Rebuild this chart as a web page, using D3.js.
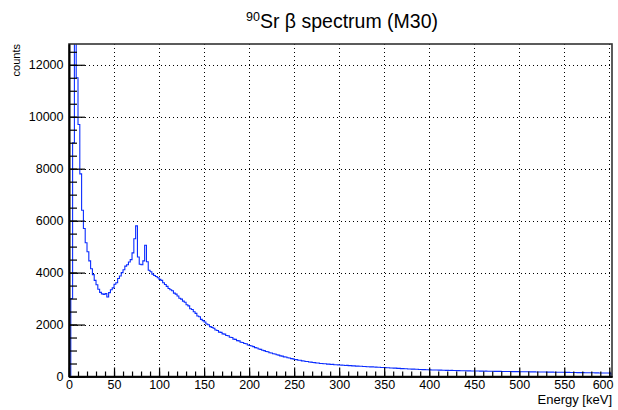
<!DOCTYPE html>
<html>
<head>
<meta charset="utf-8">
<script src="https://cdn.jsdelivr.net/npm/d3@7"></script>
<style>
  html, body { margin: 0; padding: 0; background: #fff; }
  svg { display: block; font-family: "Liberation Sans", Arial, Helvetica, sans-serif; }
</style>
</head>
<body>
<svg id="chart" width="618" height="410"></svg>
<script>
// ---- data ----
const binWidth = 2; // keV
const counts = [
  0, 3000, 9000, 14000, 11500, 9700, 7800, 6400, 5700, 5150,
  4800, 4450, 4150, 3920, 3700, 3530, 3360, 3240, 3180, 3160,
  3190, 3060, 3230, 3340, 3410, 3550, 3610, 3770, 3870, 4000,
  4110, 4250, 4300, 4410, 4500, 4760, 5300, 5800, 4600, 4320,
  4300, 4450, 5050, 4420, 4090, 4030, 3940, 3890, 3850, 3800,
  3740, 3700, 3610, 3540, 3470, 3390, 3340, 3300, 3210, 3170,
  3100, 3010, 2980, 2900, 2860, 2760, 2720, 2610, 2580, 2490,
  2430, 2330, 2300, 2200, 2150, 2100, 2020, 1990, 1920, 1890,
  1860, 1790, 1770, 1710, 1700, 1640, 1630, 1580, 1570, 1510,
  1500, 1440, 1430, 1380, 1370, 1320, 1310, 1270, 1260, 1210,
  1195,
  1175, 1150, 1110, 1095, 1060, 1045, 1010, 995, 960, 950, 915, 905,
  875, 868, 835, 822, 795, 786, 755, 750, 722, 714, 688, 680, 655,
  648, 628, 624, 600, 598, 580, 575, 556, 553, 538, 534, 522,
  518, 503, 502, 488, 488, 476, 475, 464, 466, 455, 454, 446,
  445, 436, 435, 426, 428, 418, 417, 408, 410, 400, 400, 393, 392, 384, 384, 376, 377, 370, 370, 363, 362, 355, 356, 349, 348,
  344, 337, 338, 329, 328, 321, 321, 313, 312, 305, 305, 297, 298, 291, 290, 284, 284, 278, 278, 271, 271, 265, 265, 259, 258,
  256, 252, 253, 248, 248, 244, 245, 240, 241, 237, 236, 233, 234, 230, 230, 227, 227, 223, 223, 219, 220, 216, 216, 213, 214,
  211, 212, 209, 208, 208, 205, 206, 203, 204, 201, 201, 198, 199, 196, 197, 194, 195, 192, 193, 190, 190, 188, 188, 186, 187,
  184, 185, 182, 182, 180, 180, 179, 177, 178, 175, 176, 173, 174, 171, 172, 169, 170, 167, 168, 165, 166, 163, 164, 161, 162,
  159, 159, 157, 156, 156, 153, 154, 151, 151, 149, 149, 146, 147, 144, 144, 142, 142, 139, 139, 137, 137, 134, 135, 132, 132, 130
];
const xDomain = [0, 603];
const yDomain = [0, 12800];
const xMajorTicks = [0, 50, 100, 150, 200, 250, 300, 350, 400, 450, 500, 550, 600];
const yMajorTicks = [0, 2000, 4000, 6000, 8000, 10000, 12000];
const xMinorStep = 10;
const yMinorStep = 500;
const titleParts = { sup: "90", main: "Sr ", greek: "\u03B2", rest: " spectrum (M30)" };
const xTitle = "Energy [keV]";
const yTitle = "counts";

// ---- layout ----
const W = 618, H = 410;
const L = 69, R = 612, T = 44, B = 376.5;
const svg = d3.select("#chart");

const x = d3.scaleLinear().domain(xDomain).range([L, R]);
const y = d3.scaleLinear().domain(yDomain).range([B, T]);

const xMinor = d3.range(xDomain[0], xDomain[1] + 0.001, xMinorStep);
const yMinor = d3.range(yDomain[0], yDomain[1] + 0.001, yMinorStep);

// grid
const grid = svg.append("g").attr("stroke", "#000").attr("stroke-width", 1)
  .attr("stroke-dasharray", "1,3").attr("shape-rendering", "crispEdges");
grid.selectAll("line.gx").data(xMajorTicks.filter(d => d > 0)).join("line")
  .attr("x1", d => Math.round(x(d)) + 0.5).attr("x2", d => Math.round(x(d)) + 0.5)
  .attr("y1", T).attr("y2", B);
grid.selectAll("line.gy").data(yMajorTicks.filter(d => d > 0)).join("line")
  .attr("x1", L).attr("x2", R)
  .attr("y1", d => Math.round(y(d)) + 0.5).attr("y2", d => Math.round(y(d)) + 0.5);

// histogram
svg.append("clipPath").attr("id", "clip").append("rect")
  .attr("x", L).attr("y", T).attr("width", R - L).attr("height", B - T);
const pts = [[x(0), y(0)]];
counts.forEach((c, i) => {
  pts.push([x(i * binWidth), y(c)]);
  pts.push([x((i + 1) * binWidth), y(c)]);
});
pts.push([x(counts.length * binWidth), y(0)]);
svg.append("path")
  .attr("clip-path", "url(#clip)")
  .attr("d", d3.line()(pts))
  .attr("fill", "none")
  .attr("stroke", "#0a2cff")
  .attr("stroke-width", 1.1);

// frame
svg.append("rect").attr("x", L).attr("y", T).attr("width", R - L).attr("height", B - T)
  .attr("fill", "none").attr("stroke", "#333").attr("stroke-width", 1.6);

// axes
const fontSize = 12.5;
const yAxisMajor = d3.axisLeft(y).tickValues(yMajorTicks).tickSize(-16).tickSizeOuter(0).tickPadding(5.5)
  .tickFormat(d3.format("d"));
const yAxisMinor = d3.axisLeft(y).tickValues(yMinor).tickSize(-8).tickSizeOuter(0).tickFormat("");
const gyMin = svg.append("g").attr("transform", `translate(${L},0)`).call(yAxisMinor);
const gy = svg.append("g").attr("transform", `translate(${L},0)`).call(yAxisMajor);

const xAxisMajor = d3.axisBottom(x).tickValues(xMajorTicks).tickSize(-9).tickSizeOuter(0).tickPadding(4)
  .tickFormat(d3.format("d"));
const xAxisMinor = d3.axisBottom(x).tickValues(xMinor).tickSize(-5).tickSizeOuter(0).tickFormat("");
const gxMin = svg.append("g").attr("transform", `translate(0,${B})`).call(xAxisMinor);
const gx = svg.append("g").attr("transform", `translate(0,${B})`).call(xAxisMajor);

[gy, gyMin, gx, gxMin].forEach(g => {
  g.select(".domain").attr("stroke", "#000").attr("stroke-width", 1.6);
  g.selectAll(".tick line").attr("stroke", "#000").attr("stroke-width", 1.2);
  g.selectAll("text").attr("font-size", fontSize).attr("font-family", "Liberation Sans, Arial, sans-serif").attr("fill", "#000");
});
// keep the last x label inside the picture, as in the reference
gx.selectAll(".tick text").filter(d => d === xMajorTicks[xMajorTicks.length - 1])
  .attr("text-anchor", "end").attr("x", R - x(xMajorTicks[xMajorTicks.length - 1]) + 1);

// axis titles
svg.append("text").attr("x", R).attr("y", 404).attr("text-anchor", "end")
  .attr("font-size", 13).attr("fill", "#000").text(xTitle);
svg.append("text").attr("transform", `translate(19.5,${T}) rotate(-90)`).attr("text-anchor", "end")
  .attr("font-size", 11).attr("fill", "#000").text(yTitle);

// title
const title = svg.append("text").attr("x", 342).attr("y", 28).attr("text-anchor", "middle")
  .attr("font-size", 19.5).attr("fill", "#000");
title.append("tspan").attr("font-size", 12.5).attr("dy", -7.5).text(titleParts.sup);
title.append("tspan").attr("dy", 7.5).text(titleParts.main);
title.append("tspan").text(titleParts.greek);
title.append("tspan").text(titleParts.rest);
</script>
</body>
</html>
